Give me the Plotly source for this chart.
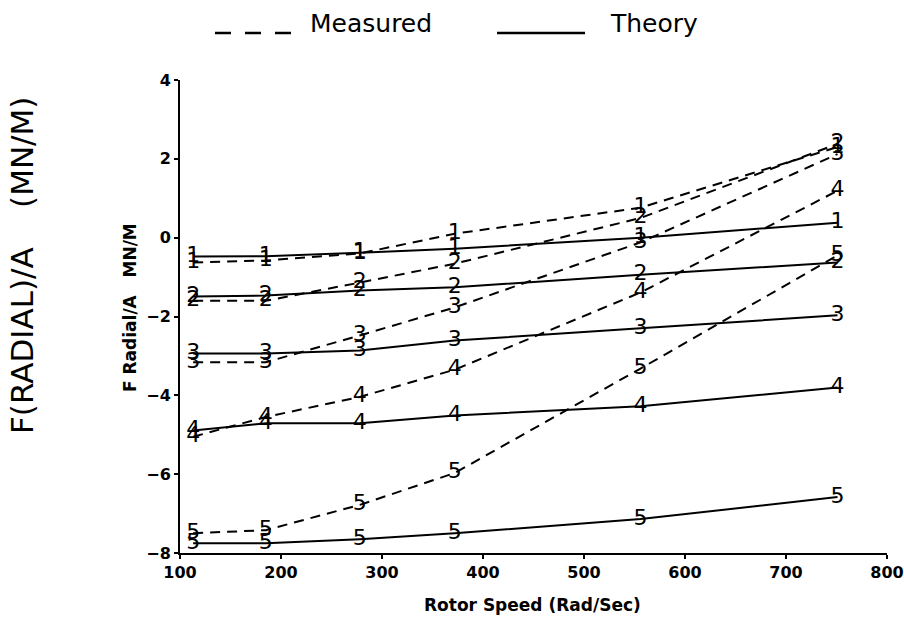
import plotly.graph_objects as go

speed = [113, 185, 278, 372, 556, 751]

measured = {
    "1": [-0.63, -0.58, -0.40, 0.10, 0.76, 2.30],
    "2": [-1.60, -1.60, -1.14, -0.66, 0.50, 2.38],
    "3": [-3.16, -3.16, -2.48, -1.77, -0.12, 2.12],
    "4": [-5.05, -4.55, -4.04, -3.35, -1.39, 1.19],
    "5": [-7.50, -7.42, -6.78, -5.97, -3.32, -0.45],
}
theory = {
    "1": [-0.48, -0.47, -0.38, -0.28, 0.00, 0.38],
    "2": [-1.49, -1.47, -1.34, -1.26, -0.94, -0.63],
    "3": [-2.94, -2.94, -2.86, -2.61, -2.30, -1.97],
    "4": [-4.89, -4.71, -4.71, -4.51, -4.28, -3.80],
    "5": [-7.75, -7.75, -7.65, -7.50, -7.14, -6.58],
}

x_ticks = [100, 200, 300, 400, 500, 600, 700, 800]
y_ticks = [4, 2, 0, -2, -4, -6, -8]

FONT = "DejaVu Sans"
fig = go.Figure()

for k, vals in measured.items():
    fig.add_trace(go.Scatter(
        x=speed, y=vals, mode="lines+text", text=[k] * len(vals),
        textposition="middle center",
        textfont=dict(family=FONT, size=22, color="black"),
        line=dict(color="black", width=2, dash="10px,7px"),
        showlegend=False, cliponaxis=False))

for k, vals in theory.items():
    fig.add_trace(go.Scatter(
        x=speed, y=vals, mode="lines+text", text=[k] * len(vals),
        textposition="middle center",
        textfont=dict(family=FONT, size=22, color="black"),
        line=dict(color="black", width=2),
        showlegend=False, cliponaxis=False))

fig.update_layout(
    width=904, height=617,
    margin=dict(l=180, r=17, t=80, b=64),
    paper_bgcolor="white", plot_bgcolor="white",
    font=dict(family=FONT, color="black"),
    xaxis=dict(range=[100, 800], tickvals=x_ticks, showgrid=False, zeroline=False,
               automargin=False,
               showline=True, linecolor="black", linewidth=2,
               ticks="outside", ticklen=4, tickwidth=2, tickcolor="black",
               tickfont=dict(size=16, family=FONT, weight="bold")),
    yaxis=dict(range=[-8, 4], tickvals=y_ticks, showgrid=False, zeroline=False,
               automargin=False,
               showline=True, linecolor="black", linewidth=2,
               ticks="outside", ticklen=4, tickwidth=2, tickcolor="black",
               tickfont=dict(size=16, family=FONT, weight="bold")),
)

def px(xp):
    return (xp - 180) / 707

def py(yp):
    return (553 - yp) / 473

def note(x, y, text, size, angle=0, xanchor="center"):
    fig.add_annotation(xref="paper", yref="paper", x=px(x), y=py(y),
                       xanchor=xanchor, yanchor="middle", text=text,
                       textangle=angle, showarrow=False,
                       font=dict(size=size, family=FONT))

# axis titles
note(532, 605, "<b>Rotor Speed (Rad/Sec)</b>", 17)
note(130, 308, "<b>F Radial/A   MN/M</b>", 17, angle=-90)
note(22, 266, "F(RADIAL)/A    (MN/M)", 31, angle=-90)

# legend
fig.add_shape(type="line", xref="paper", yref="paper",
              x0=px(215), x1=px(292), y0=py(33), y1=py(33),
              line=dict(color="black", width=2.5, dash="16px,14px"))
note(308, 24, "Measured", 25, xanchor="left")
fig.add_shape(type="line", xref="paper", yref="paper",
              x0=px(497), x1=px(585), y0=py(33), y1=py(33),
              line=dict(color="black", width=2.5))
note(608, 24, "Theory", 25, xanchor="left")

fig.write_html("out.html")
